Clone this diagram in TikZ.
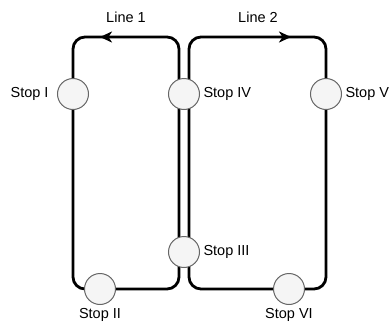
\documentclass[tikz,border=0pt]{standalone}
\usepackage{fontspec}
\setmainfont{Liberation Sans}
\usetikzlibrary{arrows.meta,decorations.markings}
\definecolor{stopfill}{HTML}{F5F5F5}
\definecolor{stopline}{HTML}{666666}
\pgfdeclarelayer{background}
\pgfsetlayers{background,main}
\tikzset{
  stop/.style={circle, draw=stopline, fill=stopfill, line width=1, minimum size=31, inner sep=0, label distance=1.5},
  loopline/.style={line width=2.8, rounded corners=12, postaction={decorate}},
  tipat/.style={decoration={markings, mark=at position #1 with {\arrow{Stealth[length=12,width=11,inset=3.5]}}}}
}
\begin{document}
\begin{tikzpicture}[x=1pt,y=-1pt,font=\fontsize{14.5}{17}\selectfont]
		\useasboundingbox (0,0) rectangle (392,325);
		\node (T1) at (126,17) {Line 1};
		\node (T2) at (258,17) {Line 2};
		\node (S1) [stop, label={[label distance=5]left:Stop I}] at (73,94) {};
		\node (S2) [stop, label=below:Stop II] at (100,289) {};
		\node (S3) [stop, label=right:Stop III] at (184,252) {};
		\node (S4) [stop, label=right:Stop IV] at (184,94) {};
		\node (S5) [stop, label=right:Stop V] at (326,94) {};
		\node (S6) [stop, label=below:Stop VI] at (289,289) {};
		\begin{pgfonlayer}{background}
		\draw[loopline, tipat=28pt] (140,37) -- (73,37) -- (73,289) -- (179,289) -- (179,37) -- cycle;
		\draw[loopline, tipat=29pt] (250,37) -- (326,37) -- (326,289) -- (189,289) -- (189,37) -- cycle;
		\end{pgfonlayer}
\end{tikzpicture}
\end{document}
